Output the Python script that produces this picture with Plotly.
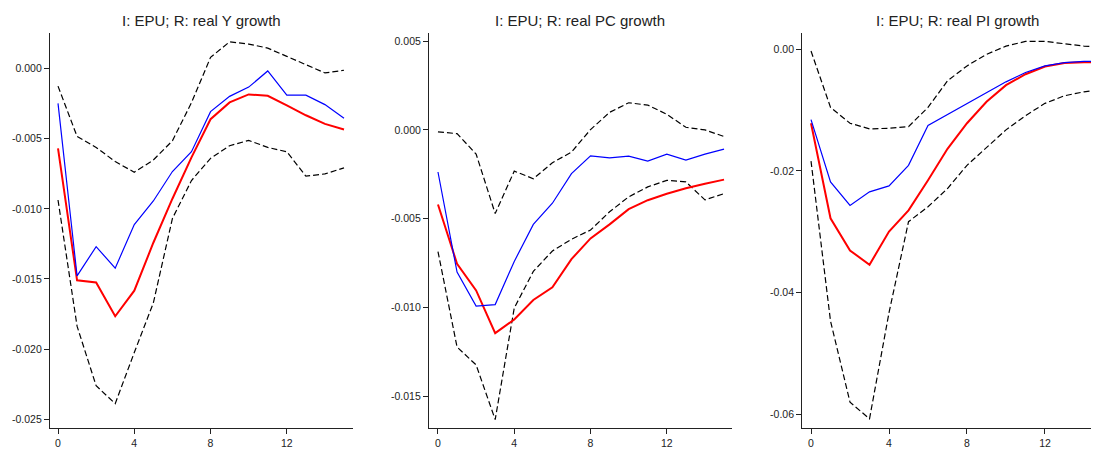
import plotly.graph_objects as go

# impulse response horizons
steps = list(range(16))

titles = ["I: EPU; R: real Y growth", "I: EPU; R: real PC growth", "I: EPU; R: real PI growth"]

# real Y growth
y_blue = [-0.00248, -0.01478, -0.0127, -0.01423, -0.01112, -0.00944, -0.00734, -0.00593,
          -0.00307, -0.00198, -0.00132, -0.00017, -0.00189, -0.00189, -0.00257, -0.00354]
y_red = [-0.00569, -0.0151, -0.01525, -0.01766, -0.01584, -0.01242, -0.00928, -0.00633,
         -0.00361, -0.00241, -0.00184, -0.00194, -0.00262, -0.00333, -0.00394, -0.00434]
y_upper = [-0.00125, -0.00484, -0.00562, -0.00663, -0.00739, -0.00652, -0.00515, -0.00243,
           0.0008, 0.00191, 0.00175, 0.00146, 0.00087, 0.00028, -0.00031, -0.00012]
y_lower = [-0.00937, -0.01837, -0.02262, -0.02389, -0.02025, -0.01671, -0.01069, -0.00798,
           -0.0064, -0.0055, -0.00512, -0.00562, -0.00593, -0.00767, -0.00751, -0.00708]

# real PC growth
pc_blue = [-0.00237, -0.00801, -0.00992, -0.00984, -0.00741, -0.00532, -0.00413, -0.00246,
           -0.00146, -0.00157, -0.00148, -0.00176, -0.00136, -0.0017, -0.00136, -0.00108]
pc_red = [-0.0042, -0.00754, -0.00904, -0.01145, -0.01068, -0.00958, -0.00887, -0.00728,
          -0.00611, -0.00532, -0.00446, -0.00396, -0.0036, -0.00329, -0.00303, -0.0028]
pc_upper = [-0.00011, -0.00021, -0.00136, -0.00471, -0.00232, -0.00275, -0.00185, -0.00125,
            0.00002, 0.00099, 0.00153, 0.0014, 0.00088, 0.00015, 0.0, -0.00037]
pc_lower = [-0.00685, -0.01223, -0.01324, -0.01632, -0.01003, -0.00797, -0.00682, -0.00616,
            -0.00564, -0.00461, -0.00377, -0.00321, -0.00284, -0.00293, -0.00394, -0.00359]

# real PI growth
pi_blue = [-0.01155, -0.0218, -0.02567, -0.02343, -0.02245, -0.01907, -0.01253, -0.01074,
           -0.00888, -0.00708, -0.00534, -0.00381, -0.00272, -0.00218, -0.00196, -0.00196]
pi_red = [-0.01215, -0.02779, -0.03308, -0.03542, -0.02997, -0.02649, -0.02153, -0.01635,
          -0.01215, -0.00861, -0.00589, -0.00409, -0.00283, -0.00223, -0.00213, -0.00213]
pi_upper = [-0.00027, -0.00954, -0.01215, -0.01308, -0.01297, -0.0127, -0.00954, -0.00518,
            -0.00272, -0.00082, 0.00054, 0.00131, 0.00131, 0.00093, 0.00054, 0.00038]
pi_lower = [-0.01837, -0.04469, -0.05804, -0.06076, -0.04332, -0.02834, -0.02589, -0.02289,
            -0.01907, -0.01608, -0.01324, -0.0109, -0.00888, -0.00763, -0.00698, -0.00654]

x_ticks = [0, 4, 8, 12]
y_ticks = [
    [0.0, -0.005, -0.01, -0.015, -0.02, -0.025],
    [0.005, 0.0, -0.005, -0.01, -0.015],
    [0.0, -0.02, -0.04, -0.06],
]
y_ticktext = [
    ["0.000", "-0.005", "-0.010", "-0.015", "-0.020", "-0.025"],
    ["0.005", "0.000", "-0.005", "-0.010", "-0.015"],
    ["0.00", "-0.02", "-0.04", "-0.06"],
]

panels = [
    (y_blue, y_red, y_upper, y_lower),
    (pc_blue, pc_red, pc_upper, pc_lower),
    (pi_blue, pi_red, pi_upper, pi_lower),
]

# page has an 8px body margin, so the figure is 1091x441
x_domains = [[0.0385, 0.3162], [0.3859, 0.6633], [0.728, 1.0]]
title_x = [0.1774, 0.5247, 0.8699]
x_ranges = [[-0.42, 15.47], [-0.47, 15.4], [-0.45, 14.77]]
y_ranges = [[-0.02564, 0.00255], [-0.0168, 0.00547], [-0.0623, 0.00272]]

fig = go.Figure()
layout = {}
annotations = []
for i, (blue, red, upper, lower) in enumerate(panels):
    n = "" if i == 0 else str(i + 1)
    xa, ya = "x" + n, "y" + n
    for band in (upper, lower):
        fig.add_trace(go.Scatter(x=steps, y=band, mode="lines", xaxis=xa, yaxis=ya,
                                 line=dict(color="black", width=1.2, dash="6px,3px"),
                                 showlegend=False))
    fig.add_trace(go.Scatter(x=steps, y=red, mode="lines", xaxis=xa, yaxis=ya,
                             line=dict(color="#FF0000", width=2), showlegend=False))
    fig.add_trace(go.Scatter(x=steps, y=blue, mode="lines", xaxis=xa, yaxis=ya,
                             line=dict(color="#0000FF", width=1.2), showlegend=False))

    layout["xaxis" + n] = dict(
        domain=x_domains[i], range=x_ranges[i], anchor=ya,
        tickvals=x_ticks, ticks="outside", ticklen=5, tickcolor="#222",
        showline=True, linecolor="#222", linewidth=1.2, showgrid=False, zeroline=False,
        tickfont=dict(size=10.5, color="#222"),
    )
    layout["yaxis" + n] = dict(
        domain=[0.0408, 0.9433], range=y_ranges[i], anchor=xa,
        tickvals=y_ticks[i], ticktext=y_ticktext[i], ticks="outside", ticklen=5,
        tickcolor="#222", showline=True, linecolor="#222", linewidth=1.2,
        showgrid=False, zeroline=False, tickfont=dict(size=10.5, color="#222"),
    )
    annotations.append(dict(
        text=titles[i], xref="paper", yref="paper", x=title_x[i], y=0.9712,
        xanchor="center", yanchor="middle", showarrow=False,
        font=dict(size=15, color="#222"),
    ))

fig.update_layout(
    **layout,
    annotations=annotations,
    width=1091, height=441,
    margin=dict(l=0, r=0, t=0, b=0),
    paper_bgcolor="white", plot_bgcolor="white",
    font=dict(family="Liberation Sans, Arial, sans-serif", color="#222"),
)
fig.write_html("out.html")
